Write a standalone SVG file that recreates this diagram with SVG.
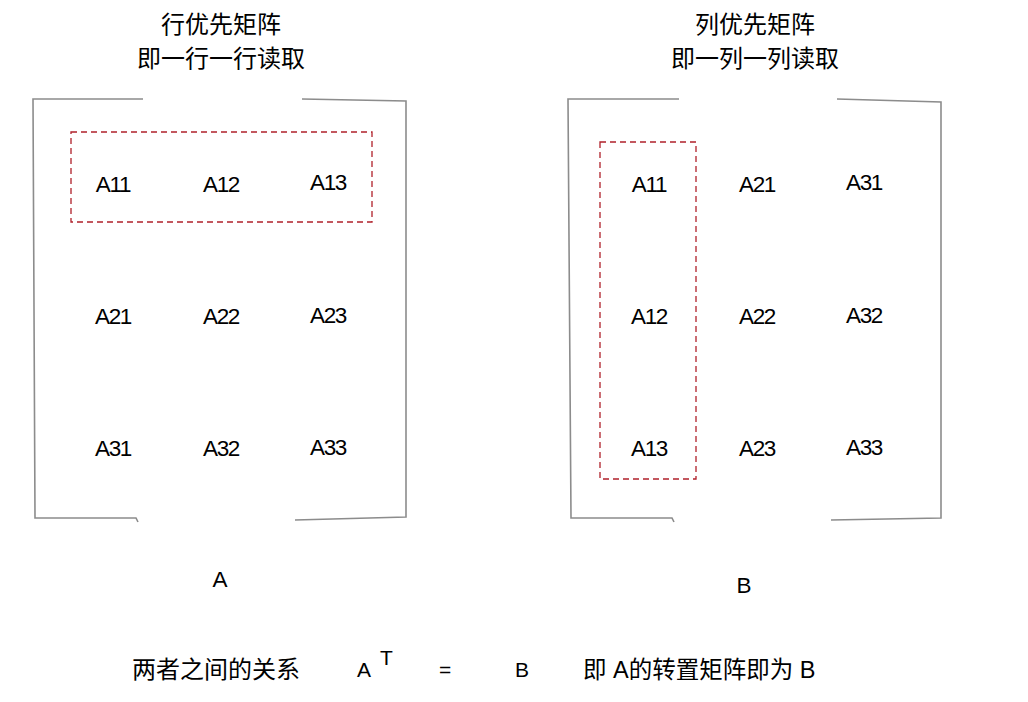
<svg xmlns="http://www.w3.org/2000/svg" width="1028" height="702" viewBox="0 0 1028 702">
<style>
text{font-family:"Liberation Sans","Noto Sans CJK SC",sans-serif;font-size:21px;fill:#000;}
.c{text-anchor:middle;}
.m{font-size:22.5px;letter-spacing:-1.3px;}
.cjk{font-size:24px;}
.mix{font-size:23.5px;}
.br{fill:none;stroke:#8c8c8c;stroke-width:1.6;}
.sel{fill:none;stroke:#b0202a;stroke-width:1.3;stroke-dasharray:6,4;}
</style>
<rect width="1028" height="702" fill="#fff"/>
<g id="matrixA">
<text class="c cjk" x="221" y="33">行优先矩阵</text>
<text class="c cjk" x="221" y="67">即一行一行读取</text>
<path class="br" d="M143,99 L33,99 L35,518 L136,518 L138,522"/>
<path class="br" d="M302,99 L406,101 L406,517 L295,520"/>
<rect class="sel" x="71" y="132" width="301" height="90"/>
<text class="c m" x="113" y="192">A11</text>
<text class="c m" x="221" y="192">A12</text>
<text class="c m" x="328" y="190">A13</text>
<text class="c m" x="113" y="324">A21</text>
<text class="c m" x="221" y="324">A22</text>
<text class="c m" x="328" y="323">A23</text>
<text class="c m" x="113" y="456">A31</text>
<text class="c m" x="221" y="456">A32</text>
<text class="c m" x="328" y="455">A33</text>
<text class="c" x="220" y="587" style="font-size:22.5px">A</text>
</g>
<g id="matrixB">
<text class="c cjk" x="755" y="33">列优先矩阵</text>
<text class="c cjk" x="755" y="67">即一列一列读取</text>
<path class="br" d="M679,99 L568,99 L571,518 L672,518 L674,522"/>
<path class="br" d="M837,99 L941,102 L941,518 L831,520"/>
<rect class="sel" x="600" y="142" width="96" height="337"/>
<text class="c m" x="649" y="192">A11</text>
<text class="c m" x="757" y="192">A21</text>
<text class="c m" x="864" y="190">A31</text>
<text class="c m" x="649" y="324">A12</text>
<text class="c m" x="757" y="324">A22</text>
<text class="c m" x="864" y="323">A32</text>
<text class="c m" x="649" y="456">A13</text>
<text class="c m" x="757" y="456">A23</text>
<text class="c m" x="864" y="455">A33</text>
<text class="c" x="744" y="593" style="font-size:22.5px">B</text>
</g>
<g id="relation">
<text class="cjk" x="132" y="678">两者之间的关系</text>
<text x="357" y="677">A</text>
<text x="380" y="665">T</text>
<text x="439" y="677">=</text>
<text x="515" y="677">B</text>
<text class="mix" x="583" y="678">即 A的转置矩阵即为 B</text>
</g>
</svg>
